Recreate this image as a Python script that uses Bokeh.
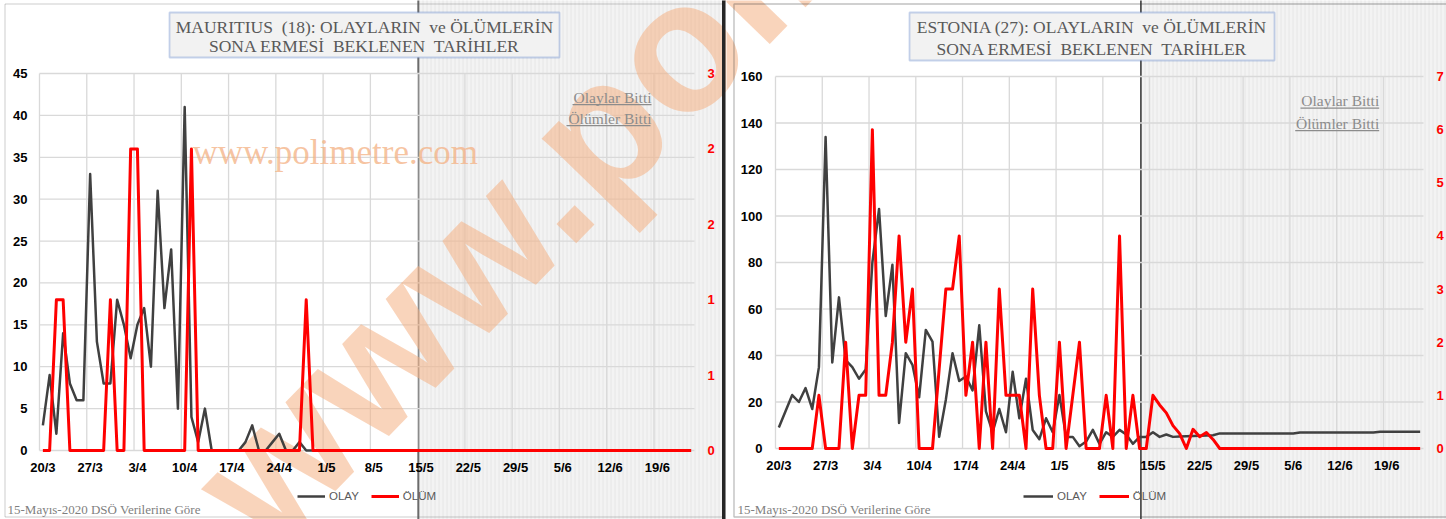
from bokeh.plotting import figure
from bokeh.models import (Range1d, LinearAxis, FixedTicker, NumeralTickFormatter,
                          BoxAnnotation, Label, Legend, LegendItem, ColumnDataSource)
from bokeh.layouts import row
from bokeh.embed import file_html
from bokeh.resources import INLINE

# ---------------- data ----------------
tick_labels = ["20/3", "27/3", "3/4", "10/4", "17/4", "24/4", "1/5", "8/5",
               "15/5", "22/5", "29/5", "5/6", "12/6", "19/6"]

mauritius_cases = [3, 9, 2, 14, 8, 6, 6, 33, 13, 8,
                   8, 18, 15, 11, 15, 17, 10, 31, 17, 24,
                   5, 41, 4, 1, 5, 0, 0, 0, 0, 0,
                   1, 3, 0, 0, 1, 2, 0, 0, 1, 0,
                   0, 0, 0, 0, 0, 0, 0, 0, 0, 0,
                   0, 0, 0, 0, 0, 0, 0, 0, 0, 0,
                   0, 0, 0, 0, 0, 0, 0, 0, 0, 0,
                   0, 0, 0, 0, 0, 0, 0, 0, 0, 0,
                   0, 0, 0, 0, 0, 0, 0, 0, 0, 0,
                   0, 0, 0, 0, 0, 0, 0]
mauritius_deaths = [0, 0, 1, 1, 0, 0, 0, 0, 0, 0,
                    1, 0, 0, 2, 2, 0, 0, 0, 0, 0,
                    0, 0, 2, 0, 0, 0, 0, 0, 0, 0,
                    0, 0, 0, 0, 0, 0, 0, 0, 0, 1,
                    0, 0, 0, 0, 0, 0, 0, 0, 0, 0,
                    0, 0, 0, 0, 0, 0, 0, 0, 0, 0,
                    0, 0, 0, 0, 0, 0, 0, 0, 0, 0,
                    0, 0, 0, 0, 0, 0, 0, 0, 0, 0,
                    0, 0, 0, 0, 0, 0, 0, 0, 0, 0,
                    0, 0, 0, 0, 0, 0, 0]
estonia_cases = [9, 16, 23, 20, 26, 17, 35, 134, 37, 65,
                 38, 35, 30, 34, 80, 103, 57, 79, 11, 41,
                 36, 22, 51, 46, 5, 21, 41, 29, 31, 25,
                 53, 16, 7, 17, 7, 33, 13, 30, 8, 4,
                 13, 7, 23, 5, 5, 1, 3, 8, 2, 7,
                 5, 8, 6, 2, 5, 5, 7, 5, 6, 5,
                 5.2, 5.3, 5.4, 5.5, 5.6, 5.7, 6.5, 6.5, 6.5, 6.5,
                 6.5, 6.5, 6.5, 6.5, 6.5, 6.5, 6.5, 6.5, 6.9, 6.9,
                 6.9, 6.9, 6.9, 6.9, 6.9, 6.9, 6.9, 6.9, 6.9, 6.9,
                 7.2, 7.2, 7.2, 7.2, 7.2, 7.2, 7.2]
estonia_deaths = [0, 0, 0, 0, 0, 0, 1, 0, 0, 0,
                  2, 0, 1, 1, 6, 1, 1, 2, 4, 2,
                  3, 0, 0, 0, 1.5, 3, 3, 4, 1, 2,
                  0, 2, 0, 3, 1, 1, 1, 0, 3, 1,
                  0, 0, 2, 0, 1, 2, 0, 0, 0, 1,
                  0, 4, 0, 1, 0, 0, 1, 0.82, 0.67, 0.43,
                  0.28, 0, 0.36, 0.22, 0.3, 0.17, 0, 0, 0, 0,
                  0, 0, 0, 0, 0, 0, 0, 0, 0, 0,
                  0, 0, 0, 0, 0, 0, 0, 0, 0, 0,
                  0, 0, 0, 0, 0, 0, 0]

SERIF = "Liberation Serif"
SANS = "Liberation Sans"
NB = "\u00a0"


def build(title, cases, deaths, ymax, ystep, dmax, dstep, g):
    W, H = g["W"], g["H"]
    fl, fw, ft, fh = g["fl"], g["fw"], g["ft"], g["fh"]   # plot area inside the canvas
    n = len(cases)
    x0, x1 = -0.5, n - 0.5

    def cx(v):  # canvas px -> data x
        return x0 + (v - fl) / fw * (x1 - x0)

    def cy(v):  # canvas px -> data y
        return ymax - (v - ft) / fh * ymax

    def cyd(v):  # canvas px -> secondary axis value
        return dmax - (v - ft) / fh * dmax

    # the frame covers the whole canvas; the plot area is the data window 0..ymax
    p = figure(width=W, height=H, x_range=Range1d(cx(0), cx(W)), y_range=Range1d(cy(H), cy(0)),
               output_backend="svg", toolbar_location=None, min_border=0)
    p.title.visible = False
    p.background_fill_color = "white"
    p.border_fill_color = "white"
    p.outline_line_color = None
    p.extra_y_ranges = {"d": Range1d(cyd(H), cyd(0))}
    p.xgrid.visible = False
    p.ygrid.visible = False

    # shaded "future" region and separator
    sx = g["shade_x"]
    p.add_layout(BoxAnnotation(left=sx, right=cx(W + 60), top=cy(-60), bottom=cy(H + 60),
                               fill_color="#f3f3f3", fill_alpha=1, hatch_pattern="|",
                               hatch_color="#e6e6e6", hatch_scale=4, hatch_weight=1,
                               line_color=None, level="image"))
    hw = g["sep_w"] / 2 / fw * (x1 - x0)
    p.add_layout(BoxAnnotation(left=sx - hw, right=sx + hw, top=cy(-60), bottom=cy(H + 60),
                               fill_color=g["sep_color"], fill_alpha=1, line_color=None, level="image"))

    # grid lines of the plot area (from the tick lists)
    yt = list(range(0, ymax + 1, ystep))
    xg = [7 * i - 0.5 for i in range(len(tick_labels))]
    grid = ColumnDataSource(dict(
        xa=[x0] * len(yt) + xg, xb=[x1] * len(yt) + xg,
        ya=yt + [0] * len(xg), yb=yt + [ymax] * len(xg)))
    p.segment(x0="xa", y0="ya", x1="xb", y1="yb", source=grid,
              line_color="#d9d9d9", line_width=1.3, level="underlay")

    # watermarks
    if g["wm_small"]:
        p.add_layout(Label(x=cx(g["wm_x"]), y=cy(g["wm_y"]), text="www.polimetre.com",
                           text_font=SERIF, text_font_size="35px", text_color="#f4b183", text_alpha=0.75,
                           text_baseline="middle", level="underlay"))
    p.add_layout(Label(x=cx(g["big_x"]), y=cy(g["big_y"]), text="www.poli", angle=0.80,
                       text_font=SANS, text_font_style="bold", text_font_size="185px",
                       text_color="#f4b183", text_alpha=0.55, text_baseline="alphabetic",
                       level="underlay"))

    # data lines
    xs = list(range(n))
    r1 = p.line(xs, cases, line_color="#404040", line_width=2.5, line_join="round")
    r2 = p.line(xs, deaths, line_color="#ff0000", line_width=3, line_join="round", y_range_name="d")

    # axes (drawn at the edges of the plot area)
    p.xaxis.ticker = FixedTicker(ticks=[7 * i for i in range(len(tick_labels))])
    p.xaxis.major_label_overrides = {7 * i: t for i, t in enumerate(tick_labels)}
    p.yaxis.ticker = FixedTicker(ticks=yt)
    raxis = LinearAxis(y_range_name="d",
                       ticker=FixedTicker(ticks=[i * dstep for i in range(int(round(dmax / dstep)) + 1)]),
                       formatter=NumeralTickFormatter(format="0"))
    p.add_layout(raxis, "right")
    p.xaxis[0].fixed_location = 0
    p.yaxis[0].fixed_location = x0
    raxis.fixed_location = x1
    for ax in (p.xaxis[0], p.yaxis[0], raxis):
        ax.axis_line_color = None
        ax.major_tick_line_color = None
        ax.minor_tick_line_color = None
        ax.major_tick_out = 0
        ax.major_tick_in = 0
        ax.major_label_text_font = SANS
        ax.major_label_text_font_style = "bold"
        ax.major_label_text_font_size = "13px"
        ax.major_label_text_color = "#000000"
    raxis.major_label_text_color = "#ff0000"
    raxis.major_label_standoff = 13
    p.yaxis[0].major_label_standoff = g["l_std"]
    p.xaxis[0].major_label_standoff = 9

    legend = Legend(items=[LegendItem(label="OLAY", renderers=[r1]),
                           LegendItem(label="ÖLÜM", renderers=[r2])],
                    orientation="horizontal", location=g["leg_loc"],
                    border_line_color=None, background_fill_alpha=0,
                    label_text_font=SANS, label_text_font_size="11.5px", label_text_color="#595959",
                    glyph_width=g["leg_gw"], glyph_height=14, spacing=12, label_standoff=4,
                    padding=0, margin=0)
    p.add_layout(legend)

    # title box
    bx0, by0, bx1, by1 = g["box"]
    p.add_layout(BoxAnnotation(left=cx(bx0), right=cx(bx1), top=cy(by0), bottom=cy(by1),
                               fill_color="#f2f2f2", fill_alpha=1, line_color="#4472c4",
                               line_width=1.8))
    p.add_layout(Label(x=cx((bx0 + bx1) / 2), y=cy(g["title_y"]), text=title,
                       text_align="center", text_baseline="middle", text_font=SERIF,
                       text_font_size="17.5px", text_color="#595959",
                       text_line_height=g["title_lh"]))

    # "Olaylar Bitti" / "Ölümler Bitti"
    for txt, base, (u0, u1) in zip(["Olaylar Bitti", "Ölümler Bitti"], g["bitti_y"], g["bitti_u"]):
        p.add_layout(Label(x=cx(g["bitti_x"]), y=cy(base - 5.1), text=txt, text_align="right",
                           text_baseline="middle", text_font=SERIF, text_font_size="15.5px",
                           text_color="#8c8c8c"))
        p.add_layout(BoxAnnotation(left=cx(u0), right=cx(u1), top=cy(base + 1.6), bottom=cy(base + 2.7),
                                   fill_color="#8c8c8c", fill_alpha=1, line_color=None))

    # footer
    p.add_layout(Label(x=cx(g["foot_x"]), y=cy(508.5), text="15-Mayıs-2020 DSÖ Verilerine Göre",
                       text_font=SERIF, text_font_size="13px", text_color="#7f7f7f",
                       text_baseline="middle"))

    # panel border
    p.add_layout(BoxAnnotation(left=cx(g["pb"][0]), right=cx(g["pb"][2]), top=cy(g["pb"][1]),
                               bottom=cy(g["pb"][3]), fill_color=None, line_color=g["pb_color"],
                               line_width=g["pb_w"]))
    if g.get("thick_right"):
        p.add_layout(BoxAnnotation(left=cx(W - 4.5), right=cx(W - 1), top=cy(-30), bottom=cy(H + 30),
                                   fill_color="#262626", fill_alpha=1, line_color=None))
    return p


left_geo = dict(W=726, H=519, fl=39, fw=655, ft=73, fh=377, shade_x=55.6,
                sep_color="#6b6b6b", sep_w=2, box=(169, 12, 559, 57), title_y=35.5, title_lh=0.95,
                bitti_x=651, bitti_y=(102, 123), bitti_u=((572, 651), (566, 650)),
                foot_x=7, wm_small=True, wm_x=192, wm_y=151.5, big_x=225, big_y=512,
                l_std=12, leg_loc=(297, 16), leg_gw=28,
                pb=(4.5, 3.5, 723, 516.5), pb_color="#595959", pb_w=1, thick_right=True)
right_geo = dict(W=720, H=519, fl=49, fw=648, ft=76, fh=372, shade_x=54.2,
                 sep_color="#000000", sep_w=1.2, box=(183, 12, 548, 60), title_y=37.5, title_lh=1.11,
                 bitti_x=652.7, bitti_y=(105.5, 128), bitti_u=((574, 652.7), (568.7, 652.7)),
                 foot_x=11, wm_small=False, wm_x=0, wm_y=0, big_x=-501, big_y=512,
                 l_std=13, leg_loc=(297, 16), leg_gw=30,
                 pb=(7.5, 3.5, 760, 516.5), pb_color="#333333", pb_w=1.4, thick_right=False)

p1 = build(f"MAURITIUS{NB} (18): OLAYLARIN{NB} ve ÖLÜMLERİN\nSONA ERMESİ{NB} BEKLENEN{NB} TARİHLER",
           mauritius_cases, mauritius_deaths, 45, 5, 2.5, 0.5, left_geo)
p2 = build(f"ESTONIA (27): OLAYLARIN{NB} ve ÖLÜMLERİN\nSONA ERMESİ{NB} BEKLENEN{NB} TARİHLER",
           estonia_cases, estonia_deaths, 160, 20, 7, 1, right_geo)

layout = row(p1, p2, spacing=0)
open("out.html", "w").write(file_html(layout, INLINE))
